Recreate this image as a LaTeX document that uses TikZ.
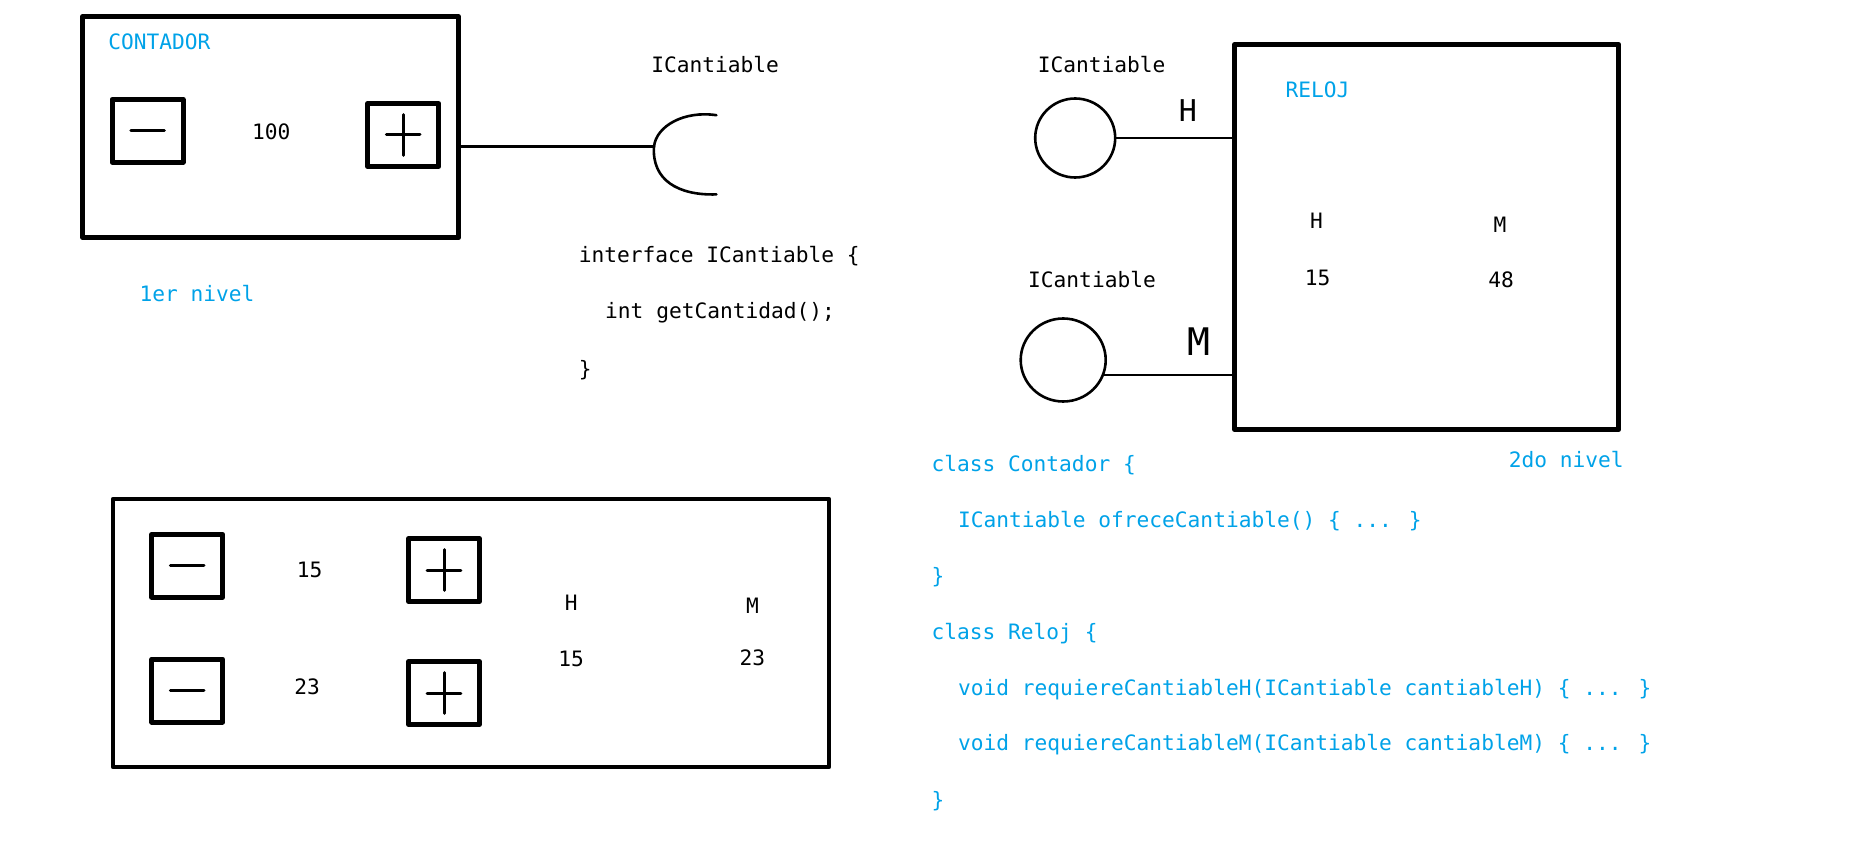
\documentclass[tikz,border=0pt]{standalone}
\usepackage{fontspec}
\newfontfamily\codefont{DejaVu Sans Mono}
\usetikzlibrary{shapes.geometric}
\definecolor{paintblue}{RGB}{0,162,232}
\tikzset{
	panel/.style={draw, line width=2.4pt, inner sep=0pt},
	keybox/.style={panel, minimum width=35.5pt, minimum height=31.5pt},
	sign/.style={line width=1.5pt},
	wire/.style={line width=1.3pt},
	ball/.style={draw, ellipse, line width=1.3pt, inner sep=0pt},
	txt/.style={font=\codefont\fontsize{10.6}{12}\selectfont, inner sep=0pt, text height=7.5pt, text depth=2pt},
	code/.style={txt, anchor=west},
	note/.style={code, text=paintblue},
	hand/.style={txt, font=\codefont\fontsize{15}{16}\selectfont, text height=10pt}
}

\begin{document}
\begin{tikzpicture}[line cap=round,line join=round,x=0.6pt,y=-0.6pt]
	\useasboundingbox (0,0) rectangle (1562.5,715);

	% contador, 1er nivel
	\node[panel, minimum width=188pt, minimum height=110.5pt] (contador) at (225.5,106) {};
	\node[note] (contadorT) at (90,37) {CONTADOR};
	\node[keybox] (cMinus) at (123,109) {};
	\node[txt] (cValor) at (226,112) {100};
	\node[keybox] (cPlus) at (336,112.5) {};
	\draw[sign] (cMinus.center) ++(-14,0) -- ++(28,0);
	\draw[sign] (cPlus.center) ++(-14,0) -- ++(28,0) (cPlus.center) ++(0,-17) -- ++(0,34);
	\node[note] (nivel1) at (116,247) {1er nivel};

	% socket ICantiable
	\coordinate (sock) at (545,122);
	\draw[wire] (sock -| contador.east) -- (sock);
	\draw[wire] (597,96) .. controls (570,92) and (547,105) .. (sock) .. controls (543,150) and (565,163) .. (597,162);
	\node[txt] (sockT) at (596,56) {ICantiable};

	\node[code] (iface1) at (482,214) {interface ICantiable \{};
	\node[code] (iface2) at (504,261) {int getCantidad();};
	\node[code] (iface3) at (482,309) {\}};

	% reloj, 2do nivel
	\node[panel, minimum width=192pt, minimum height=192.6pt] (reloj) at (1189,197.5) {};
	\node[note] (relojT) at (1071,77) {RELOJ};
	\node[txt] (rH) at (1097,186) {H};
	\node[txt] (rM) at (1250,189) {M};
	\node[txt] (rHval) at (1098,233) {15};
	\node[txt] (rMval) at (1251,235) {48};
	\node[note] (nivel2) at (1257,385) {2do nivel};

	\node[ball, minimum width=40pt, minimum height=39.5pt] (ballH) at (896,115) {};
	\node[ball, minimum width=42.5pt, minimum height=41.5pt] (ballM) at (886,300) {};
	\node[txt] (ballHT) at (918,56) {ICantiable};
	\node[txt] (ballMT) at (910,235) {ICantiable};
	\draw[wire] (ballH.east) -- (ballH.east -| reloj.west);
	\draw[wire] (ballM.-20) -- (ballM.-20 -| reloj.west);
	\node[hand] (hH) at (990,95) {H};
	\node[hand, font=\codefont\fontsize{19}{20}\selectfont] (hM) at (999,290) {M};

	% codigo
	\node[note] (k1) at (776,388) {class Contador \{};
	\node[note] (k2) at (798,435) {ICantiable ofreceCantiable() \{ ... \}};
	\node[note] (k3) at (776,482) {\}};
	\node[note] (k4) at (776,528) {class Reloj \{};
	\node[note] (k5) at (798,575) {void requiereCantiableH(ICantiable cantiableH) \{ ... \}};
	\node[note] (k6) at (798,621) {void requiereCantiableM(ICantiable cantiableM) \{ ... \}};
	\node[note] (k7) at (776,668) {\}};

	% tablero
	\node[panel, minimum width=358pt, minimum height=134pt] (tablero) at (392.5,527.5) {};
	\node[keybox] (hMinus) at (156,471.5) {};
	\node[keybox] (mMinus) at (156,575.5) {};
	\node[keybox] (hPlus) at (370,475) {};
	\node[keybox] (mPlus) at (370,577.5) {};
	\foreach \k in {hMinus,mMinus}
	\draw[sign] (\k.center) ++(-14,0) -- ++(28,0);
	\foreach \k in {hPlus,mPlus}
	\draw[sign] (\k.center) ++(-14,0) -- ++(28,0) (\k.center) ++(0,-17) -- ++(0,34);
	\node[txt] (tHval) at (258,477) {15};
	\node[txt] (tMval) at (256,574) {23};
	\node[txt] (tH) at (476,504) {H};
	\node[txt] (tM) at (627,507) {M};
	\node[txt] (tH2) at (476,551) {15};
	\node[txt] (tM2) at (627,550) {23};
\end{tikzpicture}
\end{document}
